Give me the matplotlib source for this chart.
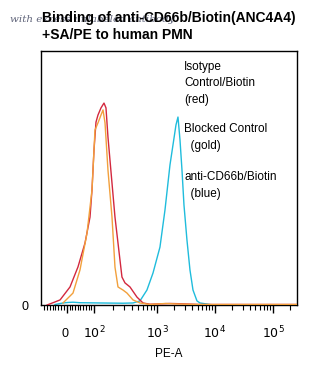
import numpy as np
import matplotlib
matplotlib.use("Agg")
import matplotlib.pyplot as plt
from matplotlib.ticker import FixedLocator, NullFormatter

plt.rcParams['font.family'] = ['Liberation Sans', 'DejaVu Sans']

# PE-A values and counts (as % of axis height)
red_x = [-69, -41.5, -24, 11.1, 40.7, 66.7, 85.2, 92.6, 100, 107.6, 115.7, 129.2, 144.1,
         155, 166.7, 193.1, 215.4, 240.5, 278, 310.5, 372.8, 481.6, 600, 774, 1675, 2494, 5513, 259000]
red_y = [0, 1.2, 2.0, 7.1, 15.0, 24.4, 34.6, 45.3, 61.0, 72.0, 74.8, 77.6, 79.5,
         77.6, 66.1, 48.0, 34.6, 24.4, 11.0, 8.7, 7.1, 3.1, 0.8, 0.3, 0.6, 0.5, 0.2, 0.2]

gold_x = [-13.8, 22.2, 48.1, 74.1, 92.6, 103.7, 115.7, 129.2, 139, 149.6, 166.7, 193.1,
          215.4, 240.5, 288.4, 334, 416, 537, 774, 1400, 2200, 5000, 259000]
gold_y = [0.8, 4.7, 13.8, 28.3, 45.3, 68.9, 71.7, 74.8, 76.8, 71.7, 53.1, 34.6,
          14.9, 7.1, 5.9, 4.7, 2.0, 0.8, 0.2, 0.6, 0.4, 0.2, 0.2]

blue_x = [-41.5, -13.8, 3.7, 22.2, 48.1, 124.5, 288.4, 416, 537, 693, 865, 1126, 1374,
          1675, 1888, 2127, 2303, 2494, 2700, 2921, 3289, 3707, 4179, 4898, 5513, 8211]
blue_y = [0.2, 0.8, 1.0, 1.1, 0.9, 0.8, 0.7, 0.8, 1.6, 5.9, 12.6, 22.8, 37.4,
          55.1, 63.0, 70.9, 74.0, 65.0, 53.1, 39.4, 25.6, 13.8, 5.9, 1.6, 0.8, 0.2]

major_ticks = [0, 1e2, 1e3, 1e4, 1e5]
major_labels = ['', '$10^{2}$', '$10^{3}$', '$10^{4}$', '$10^{5}$']
minor_ticks = ([-80, -70, -60, -50, -40, -30, -20, -10] + list(range(10, 100, 10))
               + [m * 10 ** e for e in (2, 3, 4) for m in range(2, 10)] + [2e5])

labels = ['Isotype\nControl/Biotin\n(red)', 'Blocked Control\n  (gold)', 'anti-CD66b/Biotin\n  (blue)']


# flow-cytometry style axis: linear around zero, log above 100
def _g(x):
    x = np.asarray(x, dtype=float)
    ax_ = np.abs(x)
    return np.where(ax_ <= 100, x / 100, np.sign(x) * (1 + np.log10(np.maximum(ax_, 100) / 100)))

def _ginv(g):
    g = np.asarray(g, dtype=float)
    ag = np.abs(g)
    return np.where(ag <= 1, 100 * g, np.sign(g) * 100 * 10 ** (np.maximum(ag, 1) - 1))

G_KNOTS = [-3, -1, 0, 1, 2, 3, 4, 5]
U_KNOTS = [-100, -28.9, 0, 27, 90, 148, 206, 264]

def forward(x):
    return np.interp(_g(x), G_KNOTS, U_KNOTS)

def inverse(u):
    return _ginv(np.interp(u, U_KNOTS, G_KNOTS))


fig = plt.figure(figsize=(3.29, 3.67), dpi=100)
ax = fig.add_axes([41 / 329, 1 - 305 / 367, 256 / 329, 254 / 367])
ax.set_xscale('function', functions=(forward, inverse))

ax.plot(red_x, red_y, color='#d3283e', lw=1.0, zorder=3)
ax.plot(gold_x, gold_y, color='#f2a03c', lw=1.0, zorder=4)
ax.plot(blue_x, blue_y, color='#1fbcdc', lw=1.0, zorder=2)

ax.set_xlim(-90, 2.6e5)
ax.set_ylim(0, 100)

ax.xaxis.set_major_locator(FixedLocator(major_ticks))
ax.set_xticklabels(major_labels)
ax.xaxis.set_minor_locator(FixedLocator(minor_ticks))
ax.xaxis.set_minor_formatter(NullFormatter())
ax.tick_params(axis='x', which='major', length=6, width=1, pad=8, labelsize=9)
ax.tick_params(axis='x', which='minor', length=3.5, width=0.8)
ax.text(-8, -0.09, '0', transform=ax.get_xaxis_transform(), ha='center', va='top', fontsize=9)

ax.set_yticks([0])
ax.set_yticklabels(['0'])
ax.tick_params(axis='y', length=0, pad=9, labelsize=9)

for s in ax.spines.values():
    s.set_linewidth(1.0)

ax.set_xlabel('PE-A', fontsize=8.5, labelpad=5)

ax.text(0.559, 0.962, labels[0], transform=ax.transAxes, va='top', ha='left', fontsize=8.5, linespacing=1.5)
ax.text(0.559, 0.715, labels[1], transform=ax.transAxes, va='top', ha='left', fontsize=8.5, linespacing=1.5)
ax.text(0.559, 0.527, labels[2], transform=ax.transAxes, va='top', ha='left', fontsize=8.5, linespacing=1.5)

# faint handwritten note underneath the title
fig.text(10 / 329, 1 - 19 / 367, 'with excess unlabeled antibody', fontsize=7.5, family='DejaVu Serif',
         style='italic', color='#3a3f5a', alpha=0.8, va='center')
fig.text(42 / 329, 1 - 18 / 367, 'Binding of anti-CD66b/Biotin(ANC4A4)', fontsize=10, weight='bold',
         va='center', ha='left')
fig.text(42 / 329, 1 - 35 / 367, '+SA/PE to human PMN', fontsize=10, weight='bold', va='center', ha='left')

fig.savefig('out.png', dpi=100)
